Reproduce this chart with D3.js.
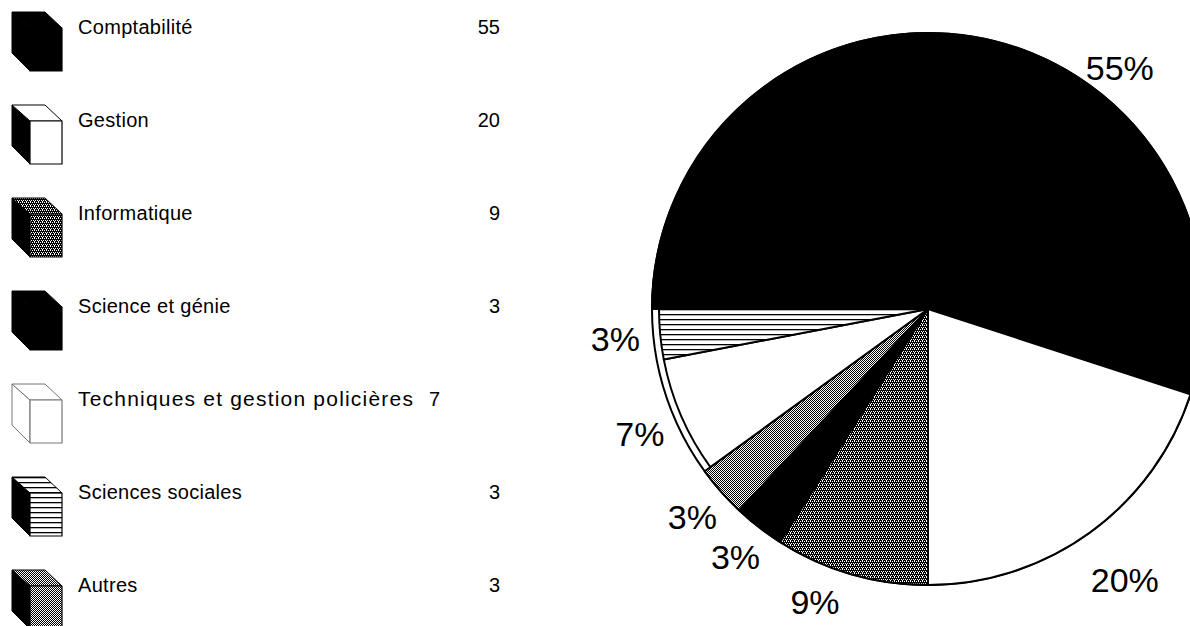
<!DOCTYPE html>
<html>
<head>
<meta charset="utf-8">
<script src="https://cdn.jsdelivr.net/npm/d3@7"></script>
<style>
  body { margin: 0; background: #fff; }
  svg { display: block; font-family: "Liberation Sans", Arial, Helvetica, sans-serif; }
</style>
</head>
<body>
<svg id="chart"></svg>
<script>
// data
var categories = ["Comptabilité", "Gestion", "Informatique", "Science et génie",
                  "Techniques et gestion policières", "Sciences sociales", "Autres"];
var values = [55, 20, 9, 3, 7, 3, 3];
var percentLabels = ["55%", "20%", "9%", "3%", "7%", "3%", "3%"];
// clockwise order of the slices, starting at 9 o'clock
var pieOrder = ["Comptabilité", "Gestion", "Informatique", "Science et génie",
                "Autres", "Techniques et gestion policières", "Sciences sociales"];

var width = 1190, height = 626;

var svg = d3.select("#chart").attr("width", width).attr("height", height);

// ---------- patterns ----------
var defs = svg.append("defs");

function dotPattern(id, size, whites) {
    var p = defs.append("pattern")
        .attr("id", id)
        .attr("patternUnits", "userSpaceOnUse")
        .attr("width", size).attr("height", size);
    p.append("rect").attr("width", size).attr("height", size).attr("fill", "#000");
    whites.forEach(function(w) {
        p.append("rect").attr("x", w[0]).attr("y", w[1])
            .attr("width", 1).attr("height", 1).attr("fill", "#fff");
    });
}
dotPattern("darkDots", 4, [[0, 0], [2, 0], [1, 2], [3, 2], [2, 3]]);
dotPattern("greyDots", 2, [[0, 0], [1, 1]]);

var hl = defs.append("pattern")
    .attr("id", "hLines")
    .attr("patternUnits", "userSpaceOnUse")
    .attr("width", 10).attr("height", 5);
hl.append("rect").attr("width", 10).attr("height", 5).attr("fill", "#fff");
hl.append("rect").attr("width", 10).attr("height", 1.3).attr("fill", "#000");

// fill of each category (pie + cube faces)
var styles = {
    "Comptabilité":                    { face: "#000", side: "#000", line: "#000" },
    "Gestion":                         { face: "#fff", side: "#000", line: "#000" },
    "Informatique":                    { face: "url(#darkDots)", side: "#000", line: "#000" },
    "Science et génie":                { face: "#000", side: "#000", line: "#000" },
    "Techniques et gestion policières":{ face: "#fff", side: "#fff", line: "#777" },
    "Sciences sociales":               { face: "url(#hLines)", side: "#000", line: "#000" },
    "Autres":                          { face: "url(#greyDots)", side: "#000", line: "#000" }
};

// ---------- legend ----------
var rowY = d3.scalePoint().domain(categories).range([12, 570]);
var cubeX = 12;

var topFace   = [[0, 0], [33, 0], [50, 16], [18, 16]];
var frontFace = [[18, 16], [50, 16], [50, 59], [18, 59]];
var sideFace  = [[0, 0], [18, 16], [18, 59], [0, 41]];
var line = d3.line();

var rows = svg.append("g").attr("class", "legend")
    .selectAll("g")
    .data(categories)
    .join("g")
    .attr("transform", function(d) { return "translate(" + cubeX + "," + rowY(d) + ")"; });

rows.append("path").attr("d", line(sideFace) + "Z")
    .attr("fill", function(d) { return styles[d].side; })
    .attr("stroke", function(d) { return styles[d].line; })
    .attr("stroke-width", 1).attr("stroke-linejoin", "round");
rows.append("path").attr("d", line(topFace) + "Z")
    .attr("fill", function(d) { return styles[d].face; })
    .attr("stroke", function(d) { return styles[d].line; })
    .attr("stroke-width", 1).attr("stroke-linejoin", "round");
rows.append("path").attr("d", line(frontFace) + "Z")
    .attr("fill", function(d) { return styles[d].face; })
    .attr("stroke", function(d) { return styles[d].line; })
    .attr("stroke-width", 1.2).attr("stroke-linejoin", "round");

var isLong = function(d) { return d.length > 25; };

var labels = rows.append("text")
    .attr("x", 66).attr("y", 22)
    .attr("font-size", function(d) { return isLong(d) ? 21 : 20; })
    .attr("letter-spacing", function(d) { return isLong(d) ? 1.2 : 0.3; })
    .attr("fill", "#000")
    .text(function(d) { return d; });

// value column, pushed right after the label when the label is too long
var valueRight = 500 - cubeX;
rows.append("text")
    .attr("y", 22)
    .attr("font-size", 20)
    .attr("fill", "#000")
    .each(function(d, i) {
        var labelEnd = 66 + labels.nodes()[i].getComputedTextLength();
        var t = d3.select(this).text(values[i]);
        if (labelEnd + 100 > valueRight) {
            t.attr("x", labelEnd + 15).attr("text-anchor", "start");
        } else {
            t.attr("x", valueRight).attr("text-anchor", "end");
        }
    });

// ---------- pie ----------
var cx = 928, cy = 309, radius = 276;
var insetSlices = ["Techniques et gestion policières", "Sciences sociales"];

var pieData = pieOrder.map(function(c) {
    var i = categories.indexOf(c);
    return { category: c, value: values[i], label: percentLabels[i] };
});

var pie = d3.pie()
    .value(function(d) { return d.value; })
    .sort(null)
    .startAngle(-Math.PI / 2)
    .endAngle(Math.PI * 1.5);

var arcs = pie(pieData);

var arc = d3.arc().innerRadius(0)
    .outerRadius(function(d) { return insetSlices.indexOf(d.data.category) >= 0 ? radius - 7 : radius; });

var pieG = svg.append("g").attr("transform", "translate(" + cx + "," + cy + ")");

pieG.append("circle").attr("r", radius)
    .attr("fill", "#fff").attr("stroke", "#000").attr("stroke-width", 2);

pieG.selectAll("path.slice")
    .data(arcs)
    .join("path")
    .attr("class", "slice")
    .attr("d", arc)
    .attr("fill", function(d) { return styles[d.data.category].face; })
    .attr("stroke", "#000")
    .attr("stroke-width", 2)
    .attr("stroke-linejoin", "round");

// percentage labels outside the pie; a label that would leave the top or
// bottom of the picture slides along the rim away from the edge
var topLabelR = 308, minLabelY = 68 - cy, maxLabelY = 602 - cy;
pieG.selectAll("text.pct")
    .data(arcs)
    .join("text")
    .attr("class", "pct")
    .attr("font-size", 34)
    .attr("text-anchor", "middle")
    .attr("dominant-baseline", "central")
    .attr("fill", "#000")
    .text(function(d) { return d.data.label; })
    .each(function(d) {
        var w = this.getBBox().width;
        var a = (d.startAngle + d.endAngle) / 2;
        var r = 260 + 1.1 * w;
        if (-r * Math.cos(a) < minLabelY) {
            r = topLabelR;
            a = Math.acos(-minLabelY / r);
        } else if (-r * Math.cos(a) > maxLabelY) {
            var off = Math.acos(maxLabelY / r);
            a = a > Math.PI ? Math.PI + off : Math.PI - off;
        }
        d3.select(this)
            .attr("x", r * Math.sin(a))
            .attr("y", -r * Math.cos(a));
    });
</script>
</body>
</html>
